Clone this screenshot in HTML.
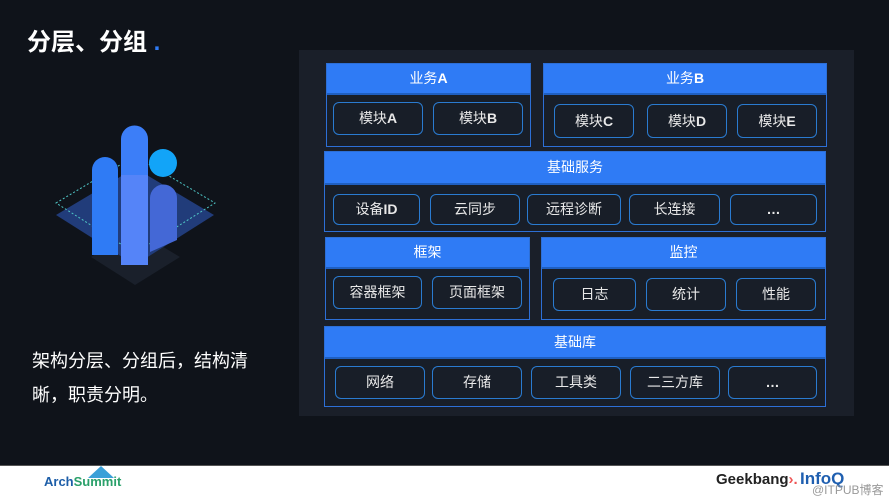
<!DOCTYPE html>
<html><head><meta charset="utf-8"><style>
body{margin:0;width:889px;height:501px;overflow:hidden;background:#0f131a;font-family:"Liberation Sans","Noto Sans CJK SC",sans-serif;position:relative}
.a{position:absolute;box-sizing:border-box}
.g{border:1px solid #2d6fd6;background:#181e28}
.h{background:#2f7bf5;color:#fff;font-size:14px;text-align:center;border-bottom:2px solid #1f5fc0}
.m{border:1.5px solid #2a7bd0;border-radius:6px;color:#e8e8e8;font-size:14px;text-align:center;background:#181e28}
</style></head><body>
<div class="a" style="left:27px;top:22px;color:#fff;font-size:24px;font-weight:bold">分层、分组 <span style="color:#2f7bf5">.</span></div>
<svg class="a" style="left:0;top:0" width="300" height="440">
<polygon points="91,257 135,230 180,257 135,285" fill="#1a202b"/>
<polygon points="56,215 135,168 214,215 135,265" fill="#213c7a"/>
<polygon points="56,203 135,156 215,203 135,253" fill="none" stroke="#4fc6c6" stroke-dasharray="2,2"/>
<path d="M92,255 V170 a13,13 0 0 1 26,0 V255 Z" fill="#2f7bf5"/>
<path d="M121,265 V139 a13.5,13.5 0 0 1 27,0 V265 Z" fill="#3c7ef8"/>
<path d="M121,175 H148 V265 H121Z" fill="#5584f8"/>
<path d="M150,252 V198 a13.5,13.5 0 0 1 27,0 V240 Z" fill="#4468d6"/>
<circle cx="163" cy="163" r="14" fill="#12a4f8"/>
</svg>
<div class="a" style="left:32px;top:344px;color:#fff;font-size:18px;line-height:34px;width:250px">架构分层、分组后，结构清晰，职责分明。</div>
<div class="a" style="left:299px;top:50px;width:555px;height:366px;background:#1a1f29"></div>

<div class="a g" style="left:326px;top:63px;width:205px;height:84px"><div class="h" style="height:29px;line-height:29px">业务<b>A</b></div></div>
<div class="a m" style="left:333px;top:102px;width:90px;height:33px;line-height:31px">模块<b>A</b></div>
<div class="a m" style="left:433px;top:102px;width:90px;height:33px;line-height:31px">模块<b>B</b></div>

<div class="a g" style="left:543px;top:63px;width:284px;height:84px"><div class="h" style="height:29px;line-height:29px">业务<b>B</b></div></div>
<div class="a m" style="left:554px;top:104px;width:80px;height:34px;line-height:32px">模块<b>C</b></div>
<div class="a m" style="left:647px;top:104px;width:80px;height:34px;line-height:32px">模块<b>D</b></div>
<div class="a m" style="left:737px;top:104px;width:80px;height:34px;line-height:32px">模块<b>E</b></div>

<div class="a g" style="left:324px;top:151px;width:502px;height:81px"><div class="h" style="height:31px;line-height:31px">基础服务</div></div>
<div class="a m" style="left:333px;top:194px;width:87px;height:31px;line-height:29px">设备<b>ID</b></div>
<div class="a m" style="left:430px;top:194px;width:90px;height:31px;line-height:29px">云同步</div>
<div class="a m" style="left:527px;top:194px;width:94px;height:31px;line-height:29px">远程诊断</div>
<div class="a m" style="left:629px;top:194px;width:91px;height:31px;line-height:29px">长连接</div>
<div class="a m" style="left:730px;top:194px;width:87px;height:31px;line-height:29px"><b>…</b></div>

<div class="a g" style="left:325px;top:237px;width:205px;height:83px"><div class="h" style="height:29px;line-height:29px">框架</div></div>
<div class="a m" style="left:333px;top:276px;width:89px;height:33px;line-height:31px">容器框架</div>
<div class="a m" style="left:432px;top:276px;width:90px;height:33px;line-height:31px">页面框架</div>

<div class="a g" style="left:541px;top:237px;width:285px;height:83px"><div class="h" style="height:29px;line-height:29px">监控</div></div>
<div class="a m" style="left:553px;top:278px;width:83px;height:33px;line-height:31px">日志</div>
<div class="a m" style="left:646px;top:278px;width:80px;height:33px;line-height:31px">统计</div>
<div class="a m" style="left:736px;top:278px;width:80px;height:33px;line-height:31px">性能</div>

<div class="a g" style="left:324px;top:326px;width:502px;height:81px"><div class="h" style="height:30px;line-height:30px">基础库</div></div>
<div class="a m" style="left:335px;top:366px;width:90px;height:33px;line-height:31px">网络</div>
<div class="a m" style="left:432px;top:366px;width:90px;height:33px;line-height:31px">存储</div>
<div class="a m" style="left:531px;top:366px;width:90px;height:33px;line-height:31px">工具类</div>
<div class="a m" style="left:630px;top:366px;width:90px;height:33px;line-height:31px">二三方库</div>
<div class="a m" style="left:728px;top:366px;width:89px;height:33px;line-height:31px"><b>…</b></div>

<div class="a" style="left:0;top:465px;width:889px;height:36px;background:#fff;border-top:1px solid #555"></div>
<div class="a" style="left:44px;top:474px;font-size:13px;color:#1d5ea8;font-weight:bold">Arch<span style="color:#2aa06a">Summit</span></div>
<svg class="a" style="left:86px;top:466px" width="30" height="12"><polygon points="15,0 28,12 2,12" fill="#3aa0d8"/></svg>
<div class="a" style="left:716px;top:471px;font-size:15px;font-weight:bold;color:#222">Geekbang<span style="color:#e55">›.</span></div>
<div class="a" style="left:800px;top:469px;font-size:17px;font-weight:bold;color:#1f5fb0">InfoQ</div>
<div class="a" style="left:812px;top:481px;font-size:12px;color:#999">@ITPUB博客</div>
</body></html>
